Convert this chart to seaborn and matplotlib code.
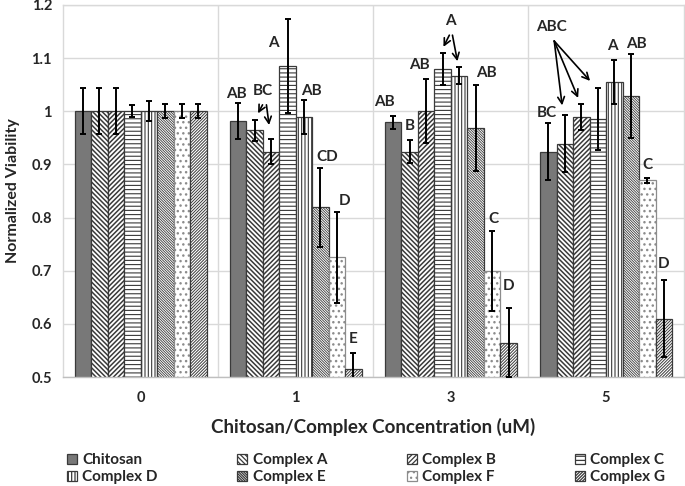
import matplotlib
matplotlib.use("Agg")
import numpy as np
import pandas as pd
import matplotlib.pyplot as plt
import seaborn as sns
from matplotlib.patches import Patch

# ---- data ----
concentrations = ["0", "1", "3", "5"]
series = ["Chitosan", "Complex A", "Complex B", "Complex C",
          "Complex D", "Complex E", "Complex F", "Complex G"]

chitosan = [1.0, 0.981, 0.979, 0.924]
complex_a = [1.0, 0.964, 0.924, 0.939]
complex_b = [1.0, 0.924, 1.0, 0.989]
complex_c = [1.0, 1.085, 1.079, 0.985]
complex_d = [1.0, 0.989, 1.067, 1.055]
complex_e = [1.0, 0.819, 0.968, 1.029]
complex_f = [1.0, 0.725, 0.70, 0.87]
complex_g = [1.0, 0.515, 0.565, 0.61]

err_chitosan = [0.043, 0.034, 0.012, 0.053]
err_a = [0.043, 0.020, 0.021, 0.053]
err_b = [0.043, 0.023, 0.060, 0.025]
err_c = [0.011, 0.089, 0.030, 0.058]
err_d = [0.019, 0.032, 0.016, 0.041]
err_e = [0.013, 0.074, 0.081, 0.079]
err_f = [0.013, 0.086, 0.075, 0.005]
err_g = [0.013, 0.030, 0.065, 0.073]

values = [chitosan, complex_a, complex_b, complex_c,
          complex_d, complex_e, complex_f, complex_g]
errors = [err_chitosan, err_a, err_b, err_c, err_d, err_e, err_f, err_g]

# significance letters: (text, x, y)
letters = [
    ("AB", 0.62, 1.032), ("BC", 0.788, 1.038), ("A", 0.859, 1.128),
    ("AB", 1.103, 1.038), ("CD", 1.206, 0.913), ("D", 1.315, 0.832),
    ("E", 1.367, 0.572),
    ("AB", 1.572, 1.017), ("B", 1.733, 0.972), ("AB", 1.797, 1.087),
    ("A", 1.997, 1.170), ("AB", 2.228, 1.072), ("C", 2.273, 0.798),
    ("D", 2.370, 0.672),
    ("ABC", 2.646, 1.159), ("BC", 2.621, 0.996), ("A", 3.039, 1.123),
    ("AB", 3.193, 1.126), ("C", 3.264, 0.898), ("D", 3.373, 0.713),
]
# arrows: (x_start, y_start, x_end, y_end)
arrows = [
    (0.786, 1.012, 0.757, 0.996), (0.811, 1.012, 0.828, 0.974),
    (1.990, 1.143, 1.952, 1.121), (2.010, 1.143, 2.042, 1.094),
    (2.666, 1.132, 2.717, 1.011), (2.666, 1.132, 2.820, 1.025),
    (2.666, 1.132, 2.897, 1.057),
]

# ---- style ----
facecolors = ["#787878", "white", "white", "white",
              "white", "white", "white", "white"]
edgecolors = ["#3a3a3a", "#3a3a3a", "#3a3a3a", "#3a3a3a",
              "#3a3a3a", "#3a3a3a", "#8c8c8c", "#3a3a3a"]
hatches = [None, "\\" * 7, "/" * 7, "-" * 4, "|" * 5, "\\" * 13, "...", "/" * 11]
hatch_lw = [1.0, 1.1, 1.1, 0.8, 0.8, 0.6, 1.0, 0.7]

sns.set_theme(style="white")
plt.rcParams["font.family"] = ["Lato", "DejaVu Sans"]
plt.rcParams["font.weight"] = "bold"
plt.rcParams["hatch.linewidth"] = 0.9

df = pd.DataFrame({
    "conc": np.repeat([concentrations], len(series), axis=0).ravel(),
    "series": np.repeat(series, len(concentrations)),
    "value": np.concatenate(values),
})

fig = plt.figure(figsize=(6.85, 4.86), dpi=100)
ax = fig.add_axes([0.092, 0.224, 0.906, 0.766])

sns.barplot(data=df, x="conc", y="value", hue="series", order=concentrations,
            hue_order=series, width=0.85, gap=0, errorbar=None, ax=ax,
            legend=False)

bar_containers = list(ax.containers)
handles = []
for i, cont in enumerate(bar_containers):
    for bar, err in zip(cont, errors[i]):
        bar.set_facecolor(facecolors[i])
        bar.set_edgecolor(edgecolors[i])
        bar.set_linewidth(0.9)
        if hatches[i]:
            bar.set_hatch(hatches[i])
        if hasattr(bar, "set_hatch_linewidth"):
            bar.set_hatch_linewidth(hatch_lw[i])
        xc = bar.get_x() + bar.get_width() / 2
        ax.errorbar(xc, bar.get_height(), yerr=err, color="black",
                    elinewidth=1.4, capsize=2.5, capthick=1.4, zorder=5)
    h = Patch(facecolor=facecolors[i], edgecolor=edgecolors[i],
              hatch=hatches[i], linewidth=0.9)
    handles.append(h)

for txt, x, y in letters:
    ax.text(x, y, txt, ha="center", va="center", fontsize=11,
            fontweight="bold", zorder=6)
for x0, y0, x1, y1 in arrows:
    ax.annotate("", xy=(x1, y1), xytext=(x0, y0),
                arrowprops=dict(arrowstyle="->", color="black", lw=1.2,
                                shrinkA=0, shrinkB=0), zorder=6)

ax.set_ylim(0.5, 1.2)
ax.set_xlim(-0.5, 3.5)
yt = [0.5, 0.6, 0.7, 0.8, 0.9, 1.0, 1.1, 1.2]
ax.set_yticks(yt)
ax.set_yticklabels(["0.5", "0.6", "0.7", "0.8", "0.9", "1", "1.1", "1.2"],
                   fontsize=10.5, fontweight="bold")
ax.set_xticks(range(len(concentrations)))
ax.set_xticklabels(concentrations, fontsize=10.5, fontweight="bold")
ax.set_xticks([0.5, 1.5, 2.5], minor=True)
ax.tick_params(axis="y", which="both", length=0, pad=8)
ax.tick_params(axis="x", which="both", length=0, pad=10)
ax.grid(axis="y", which="major", color="#d9d9d9", linewidth=1)
ax.grid(axis="x", which="minor", color="#d9d9d9", linewidth=1)
ax.set_axisbelow(True)
for s in ax.spines.values():
    s.set_color("#d9d9d9")
    s.set_linewidth(1)
ax.spines["bottom"].set_color("#bfbfbf")

ax.set_ylabel("Normalized Viability", fontsize=11.5, fontweight="bold", labelpad=8)
ax.set_xlabel("Chitosan/Complex Concentration (uM)", fontsize=13.5,
              fontweight="bold", labelpad=9)

order = [0, 4, 1, 5, 2, 6, 3, 7]
fig.legend([handles[k] for k in order], [series[k] for k in order],
           loc="lower left", bbox_to_anchor=(0.098, 0.004), ncol=4,
           frameon=False, prop={"weight": "bold", "size": 11},
           handlelength=0.65, handleheight=0.65, handletextpad=0.35,
           columnspacing=5.2, labelspacing=0.2, borderaxespad=0.0,
           borderpad=0.0)

fig.savefig("out.png", dpi=100)
